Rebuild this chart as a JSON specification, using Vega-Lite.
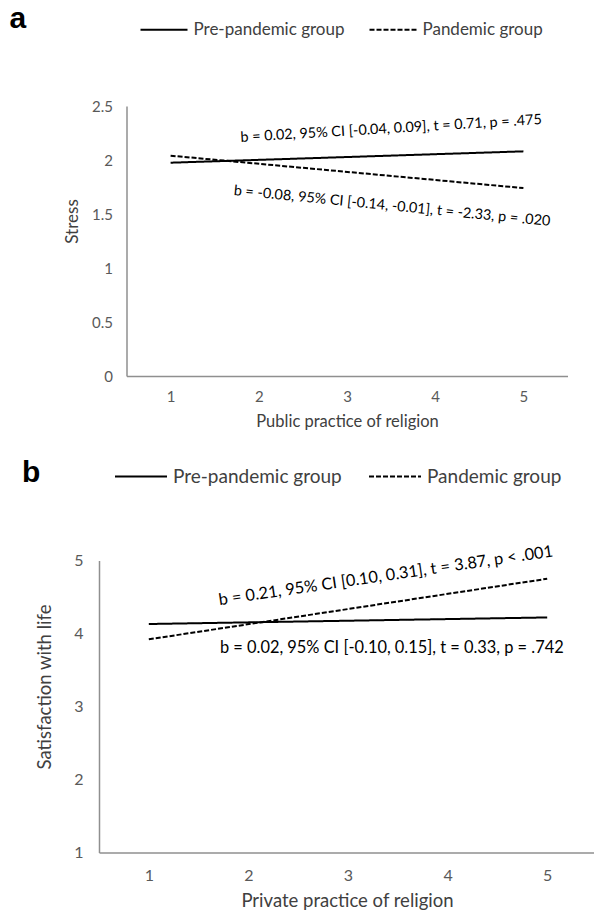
{
  "$schema": "https://vega.github.io/schema/vega-lite/v6.json",
  "padding": {"left": 9, "top": 4, "right": 0, "bottom": 0},
  "bounds": "flush",
  "center": true,
  "spacing": 184.5,
  "resolve": {"scale": {"strokeDash": "independent"}, "legend": {"strokeDash": "independent"}},
  "config": {
    "font": "Lato",
    "view": {"stroke": null},
    "axis": {
      "domainColor": "#8f8f8f",
      "domainWidth": 1.5,
      "ticks": false,
      "grid": false,
      "labelColor": "#595959",
      "labelFont": "Lato",
      "titleFont": "Lato",
      "titleFontWeight": "normal",
      "titleColor": "#404040"
    },
    "legend": {
      "labelFont": "Lato",
      "labelColor": "#404040",
      "labelLimit": 400,
      "symbolType": "stroke",
      "symbolStrokeColor": "black",
      "symbolStrokeWidth": 2,
      "direction": "horizontal",
      "orient": "none",
      "labelOffset": 5,
      "title": null
    },
    "title": {"font": "Liberation Sans", "fontWeight": "bold", "color": "black", "anchor": "start", "frame": "group", "offset": 0}
  },
  "vconcat": [
    {
      "width": 441,
      "height": 270,
      "title": {"text": "a", "fontSize": 30, "dx": -117, "dy": 33},
      "layer": [
        {
          "data": {"values": [
            {"group": "Pre-pandemic group", "practice": 1, "value": 1.975},
            {"group": "Pre-pandemic group", "practice": 5, "value": 2.08},
            {"group": "Pandemic group", "practice": 1, "value": 2.04},
            {"group": "Pandemic group", "practice": 5, "value": 1.74}
          ]},
          "mark": {"type": "line", "color": "black", "strokeWidth": 2},
          "encoding": {
            "x": {"field": "practice", "type": "quantitative", "scale": {"domain": [0.5, 5.5], "nice": false},
              "axis": {"values": [1, 2, 3, 4, 5], "format": "d", "labelFontSize": 15, "labelPadding": 13, "title": "Public practice of religion", "titleFontSize": 16.5, "titlePadding": 9}},
            "y": {"field": "value", "type": "quantitative", "scale": {"domain": [0, 2.5], "nice": false},
              "axis": {"values": [0, 0.5, 1, 1.5, 2, 2.5], "format": "~g", "labelFontSize": 15, "labelPadding": 14, "title": "Stress", "titleFontSize": 17, "titleY": 115, "titlePadding": 10}},
            "strokeDash": {"field": "group", "type": "nominal",
              "scale": {"domain": ["Pre-pandemic group", "Pandemic group"], "range": [[1, 0], [5, 2]]},
              "legend": {"legendX": 13, "legendY": -101, "labelFontSize": 17, "symbolSize": 2209, "columnPadding": 21}}
          }
        },
        {
          "data": {"values": [{"practice": 3.5, "value": 2.287, "label": "b = 0.02, 95% CI [-0.04, 0.09], t = 0.71, p = .475"}]},
          "mark": {"type": "text", "fontSize": 14.4, "angle": -3.4, "color": "black", "align": "center", "baseline": "middle"},
          "encoding": {"x": {"field": "practice", "type": "quantitative"}, "y": {"field": "value", "type": "quantitative"}, "text": {"field": "label"}}
        },
        {
          "data": {"values": [{"practice": 3.51, "value": 1.57, "label": "b = -0.08, 95% CI [-0.14, -0.01], t = -2.33, p = .020"}]},
          "mark": {"type": "text", "fontSize": 14.4, "angle": 5.6, "color": "black", "align": "center", "baseline": "middle"},
          "encoding": {"x": {"field": "practice", "type": "quantitative"}, "y": {"field": "value", "type": "quantitative"}, "text": {"field": "label"}}
        }
      ]
    },
    {
      "width": 496,
      "height": 292,
      "title": {"text": "b", "fontSize": 30, "dx": -77, "dy": 42},
      "layer": [
        {
          "data": {"values": [
            {"group": "Pre-pandemic group", "practice": 1, "value": 4.13},
            {"group": "Pre-pandemic group", "practice": 5, "value": 4.22},
            {"group": "Pandemic group", "practice": 1, "value": 3.92},
            {"group": "Pandemic group", "practice": 5, "value": 4.75}
          ]},
          "mark": {"type": "line", "color": "black", "strokeWidth": 2},
          "encoding": {
            "x": {"field": "practice", "type": "quantitative", "scale": {"domain": [0.5, 5.48], "nice": false},
              "axis": {"values": [1, 2, 3, 4, 5], "format": "d", "labelFontSize": 16, "labelPadding": 14.5, "title": "Private practice of religion", "titleFontSize": 18.5, "titlePadding": 8, "titleX": 248}},
            "y": {"field": "value", "type": "quantitative", "scale": {"domain": [1, 5], "nice": false},
              "axis": {"values": [1, 2, 3, 4, 5], "format": "~g", "labelFontSize": 16, "labelPadding": 16, "title": "Satisfaction with life", "titleFontSize": 18.5, "titleY": 126, "titlePadding": 19}},
            "strokeDash": {"field": "group", "type": "nominal",
              "scale": {"domain": ["Pre-pandemic group", "Pandemic group"], "range": [[1, 0], [5, 2]]},
              "legend": {"legendX": 15, "legendY": -111, "labelFontSize": 19, "symbolSize": 2704, "columnPadding": 23}}
          }
        },
        {
          "data": {"values": [{"practice": 3.38, "value": 4.79, "label": "b = 0.21, 95% CI [0.10, 0.31], t = 3.87, p < .001"}]},
          "mark": {"type": "text", "fontSize": 16.4, "angle": -8.3, "color": "black", "align": "center", "baseline": "middle"},
          "encoding": {"x": {"field": "practice", "type": "quantitative"}, "y": {"field": "value", "type": "quantitative"}, "text": {"field": "label"}}
        },
        {
          "data": {"values": [{"practice": 3.44, "value": 3.8, "label": "b = 0.02, 95% CI [-0.10, 0.15], t = 0.33, p = .742"}]},
          "mark": {"type": "text", "fontSize": 16.4, "angle": 0, "color": "black", "align": "center", "baseline": "middle"},
          "encoding": {"x": {"field": "practice", "type": "quantitative"}, "y": {"field": "value", "type": "quantitative"}, "text": {"field": "label"}}
        }
      ]
    }
  ]
}
